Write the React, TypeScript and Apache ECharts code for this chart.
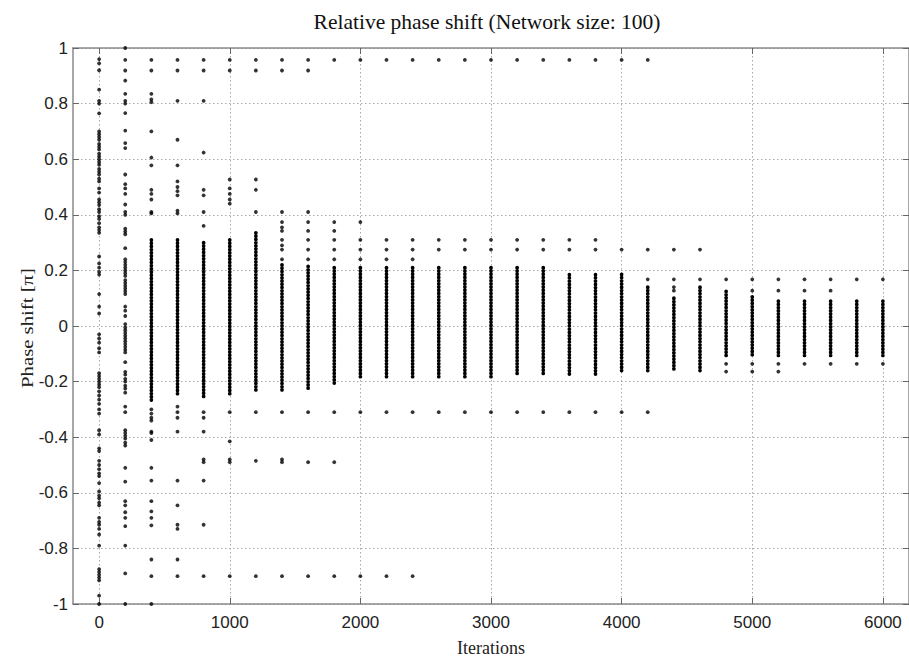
import React, { useEffect, useRef } from "react";
import * as echarts from "echarts";

// Iteration at which each column of phases was sampled
const iterations = [
  0, 200, 400, 600, 800, 1000, 1200, 1400, 1600, 1800, 2000, 2200, 2400, 2600, 2800, 3000,
  3200, 3400, 3600, 3800, 4000, 4200, 4400, 4600, 4800, 5000, 5200, 5400, 5600, 5800, 6000,
];

// Individually visible phase values (units of pi) per iteration column
const isolatedPhases: number[][] = [
  // 0
  [0.96, 0.945, 0.92, 0.85, 0.81, 0.8, 0.765, 0.7, 0.69, 0.68, 0.67, 0.655, 0.645, 0.635, 0.62, 0.61, 0.6,
    0.59, 0.58, 0.565, 0.555, 0.545, 0.53, 0.52, 0.495, 0.48, 0.455, 0.445, 0.435, 0.42, 0.41, 0.395, 0.385,
    0.37, 0.355, 0.345, 0.335, 0.25, 0.225, 0.21, 0.195, 0.185, 0.115, 0.07, 0.045, -0.03, -0.045, -0.06,
    -0.08, -0.095, -0.17, -0.18, -0.19, -0.2, -0.21, -0.22, -0.235, -0.25, -0.265, -0.28, -0.3, -0.315,
    -0.375, -0.39, -0.44, -0.45, -0.485, -0.5, -0.515, -0.53, -0.54, -0.565, -0.595, -0.61, -0.62, -0.635,
    -0.645, -0.69, -0.705, -0.715, -0.73, -0.75, -0.79, -0.875, -0.885, -0.895, -0.905, -0.915, -0.97, -1.0],
  // 200
  [1.0, 0.957, 0.919, 0.883, 0.835, 0.81, 0.8, 0.766, 0.703, 0.658, 0.64, 0.545, 0.51, 0.495, 0.475, 0.437,
    0.41, 0.4, 0.35, 0.34, 0.33, 0.28, 0.24, 0.23, 0.22, 0.21, 0.2, 0.19, 0.18, 0.165, 0.155, 0.145, 0.135,
    0.125, 0.115, 0.07, 0.055, 0.036, 0.007, -0.005, -0.015, -0.025, -0.035, -0.045, -0.055, -0.065, -0.075,
    -0.085, -0.095, -0.13, -0.165, -0.175, -0.19, -0.2, -0.215, -0.225, -0.24, -0.29, -0.31, -0.375, -0.385,
    -0.395, -0.405, -0.42, -0.43, -0.51, -0.56, -0.63, -0.645, -0.67, -0.69, -0.72, -0.79, -0.89, -1.0],
  // 400
  [0.957, 0.919, 0.835, 0.815, 0.805, 0.7, 0.606, 0.578, 0.49, 0.475, 0.455, 0.41, 0.405, -0.3, -0.315,
    -0.33, -0.34, -0.38, -0.385, -0.41, -0.51, -0.556, -0.63, -0.667, -0.69, -0.717, -0.84, -0.9, -1.0],
  // 600
  [0.957, 0.919, 0.81, 0.67, 0.578, 0.52, 0.5, 0.485, 0.47, 0.415, 0.405, -0.29, -0.31, -0.33, -0.38,
    -0.556, -0.645, -0.715, -0.73, -0.84, -0.9],
  // 800
  [0.957, 0.919, 0.81, 0.624, 0.49, 0.47, 0.41, 0.36, -0.31, -0.33, -0.38, -0.48, -0.49, -0.556, -0.715, -0.9],
  // 1000
  [0.957, 0.919, 0.527, 0.495, 0.475, 0.455, 0.44, -0.31, -0.415, -0.48, -0.49, -0.9],
  // 1200
  [0.957, 0.919, 0.527, 0.49, 0.41, -0.31, -0.485, -0.9],
  // 1400
  [0.957, 0.919, 0.41, 0.374, 0.355, 0.342, 0.31, 0.29, 0.275, 0.24, -0.31, -0.48, -0.49, -0.9],
  // 1600
  [0.957, 0.919, 0.41, 0.374, 0.342, 0.31, 0.275, 0.24, -0.31, -0.49, -0.9],
  // 1800
  [0.957, 0.374, 0.342, 0.31, 0.275, 0.24, -0.31, -0.49, -0.9],
  // 2000
  [0.957, 0.374, 0.31, 0.275, 0.24, -0.31, -0.9],
  // 2200
  [0.957, 0.31, 0.275, 0.24, -0.31, -0.9],
  // 2400
  [0.957, 0.31, 0.275, 0.24, -0.31, -0.9],
  // 2600
  [0.957, 0.31, 0.275, -0.31],
  // 2800
  [0.957, 0.31, 0.275, -0.31],
  // 3000
  [0.957, 0.31, 0.275, -0.31],
  // 3200
  [0.957, 0.31, 0.275, -0.31],
  // 3400
  [0.957, 0.31, 0.275, -0.31],
  // 3600
  [0.957, 0.31, 0.275, -0.31],
  // 3800
  [0.957, 0.31, 0.275, -0.31],
  // 4000
  [0.957, 0.275, -0.31],
  // 4200
  [0.957, 0.275, 0.168, -0.31],
  // 4400
  [0.275, 0.168, 0.14, 0.127],
  // 4600
  [0.275, 0.168],
  // 4800
  [0.168, -0.136, -0.164],
  // 5000
  [0.168, 0.127, -0.136, -0.164],
  // 5200
  [0.168, 0.127, -0.136, -0.164],
  // 5400
  [0.168, 0.127, -0.136],
  // 5600
  [0.168, 0.127, -0.136],
  // 5800
  [0.168, -0.136],
  // 6000
  [0.168, -0.136],
];

// Densely packed phase ranges [upper, lower] per iteration column
const denseRuns: number[][][] = [
  [], [],
  [[0.31, -0.27]],
  [[0.31, -0.25]],
  [[0.3, -0.26]],
  [[0.31, -0.25]],
  [[0.335, -0.23]],
  [[0.22, -0.23]],
  [[0.215, -0.226]],
  [[0.21, -0.215]],
  [[0.21, -0.19]],
  [[0.21, -0.19]],
  [[0.21, -0.19]],
  [[0.21, -0.19]],
  [[0.21, -0.19]],
  [[0.21, -0.19]],
  [[0.21, -0.178]],
  [[0.21, -0.178]],
  [[0.185, -0.178]],
  [[0.185, -0.178]],
  [[0.186, -0.164]],
  [[0.14, -0.164]],
  [[0.1, -0.164]],
  [[0.14, -0.164]],
  [[0.125, -0.106]],
  [[0.105, -0.106]],
  [[0.09, -0.106]],
  [[0.09, -0.106]],
  [[0.09, -0.106]],
  [[0.09, -0.106]],
  [[0.09, -0.106]],
];

const xTickValues = [0, 1000, 2000, 3000, 4000, 5000, 6000];
const titleText = "Relative phase shift (Network size: 100)";
const xAxisTitle = "Iterations";
const yAxisTitle = "Phase shift [\u03c0]";

const pointData: number[][] = [];
iterations.forEach((it, i) => {
  isolatedPhases[i].forEach((v) => pointData.push([it, v]));
});
const runData: number[][] = [];
iterations.forEach((it, i) => {
  denseRuns[i].forEach((r) => runData.push([it, r[0], r[1]]));
});

const boxColor = "#8a8a8a";
const gridColor = "#a8a8a8";
const sans = "'Liberation Sans', Arial, sans-serif";
const serif = "'Liberation Serif', 'Times New Roman', serif";

export default function App() {
  const ref = useRef<HTMLDivElement>(null);
  useEffect(() => {
    const chart = echarts.init(ref.current!, null, { renderer: "svg" });
    const option: any = {
      animation: false,
      backgroundColor: "#fff",
      grid: { left: 73, top: 48, right: -2, bottom: 56 },
      graphic: [
        {
          type: "text",
          x: 487,
          y: 22,
          style: {
            text: titleText,
            font: `21.5px ${serif}`,
            fill: "#111",
            textAlign: "center",
            textVerticalAlign: "middle",
          },
        },
        {
          type: "text",
          x: 27,
          y: 328,
          rotation: Math.PI / 2,
          scaleX: 1.22,
          style: {
            text: yAxisTitle,
            font: `17px ${serif}`,
            fill: "#222",
            textAlign: "center",
            textVerticalAlign: "middle",
          },
        },
      ],
      xAxis: [
        {
          type: "value",
          min: -200,
          max: 6200,
          position: "bottom",
          name: xAxisTitle,
          nameLocation: "middle",
          nameGap: 35,
          nameTextStyle: { fontFamily: serif, fontSize: 18, color: "#222" },
          axisLine: { show: true, onZero: false, lineStyle: { color: boxColor, width: 1.5 } },
          axisTick: { show: true, inside: true, length: 6, customValues: xTickValues, lineStyle: { color: "#666", width: 1 } },
          axisLabel: {
            customValues: xTickValues,
            fontFamily: sans,
            fontSize: 17,
            color: "#222",
            margin: 10,
            formatter: (v: number) => String(Math.round(v)),
          },
          splitLine: { show: true, lineStyle: { type: [1.5, 2.5], color: gridColor, width: 1 } },
        },
        {
          type: "value",
          min: -200,
          max: 6200,
          position: "top",
          axisLine: { show: true, onZero: false, lineStyle: { color: boxColor, width: 1.5 } },
          axisTick: { show: true, inside: true, length: 6, customValues: xTickValues, lineStyle: { color: "#666", width: 1 } },
          axisLabel: { show: false },
          splitLine: { show: false },
        },
      ],
      yAxis: [
        {
          type: "value",
          min: -1,
          max: 1,
          interval: 0.2,
          position: "left",
          axisLine: { show: true, onZero: false, lineStyle: { color: boxColor, width: 1.5 } },
          axisTick: { show: true, inside: true, length: 6, lineStyle: { color: "#666", width: 1 } },
          axisLabel: {
            fontFamily: sans,
            fontSize: 17,
            color: "#222",
            margin: 5,
            formatter: (v: number) => String(Math.round(v * 10) / 10),
          },
          splitLine: { show: true, lineStyle: { type: [1.5, 2.5], color: gridColor, width: 1 } },
        },
        {
          type: "value",
          min: -1,
          max: 1,
          interval: 0.2,
          position: "right",
          axisLine: { show: true, onZero: false, lineStyle: { color: boxColor, width: 1.5 } },
          axisTick: { show: true, inside: true, length: 6, lineStyle: { color: "#666", width: 1 } },
          axisLabel: { show: false },
          splitLine: { show: false },
        },
      ],
      series: [
        {
          type: "custom",
          xAxisIndex: 0,
          yAxisIndex: 0,
          data: runData,
          encode: { x: 0, y: [1, 2] },
          renderItem: (_params: any, api: any) => {
            const x = api.value(0);
            const p1 = api.coord([x, api.value(1)]);
            const p2 = api.coord([x, api.value(2)]);
            return {
              type: "line",
              shape: { x1: p1[0], y1: p1[1], x2: p2[0], y2: p2[1] },
              style: { stroke: "#000", lineWidth: 3.7, lineCap: "round", lineDash: [0.3, 2.9] },
            };
          },
        },
        {
          type: "scatter",
          xAxisIndex: 0,
          yAxisIndex: 0,
          data: pointData,
          symbol: "circle",
          symbolSize: 3.8,
          clip: false,
          itemStyle: { color: "#000" },
        },
      ],
    };
    chart.setOption(option);
    return () => chart.dispose();
  }, []);
  return (
    <div
      ref={ref}
      style={{ position: "fixed", left: 0, top: 0, width: 909, height: 662, background: "#fff" }}
    />
  );
}
